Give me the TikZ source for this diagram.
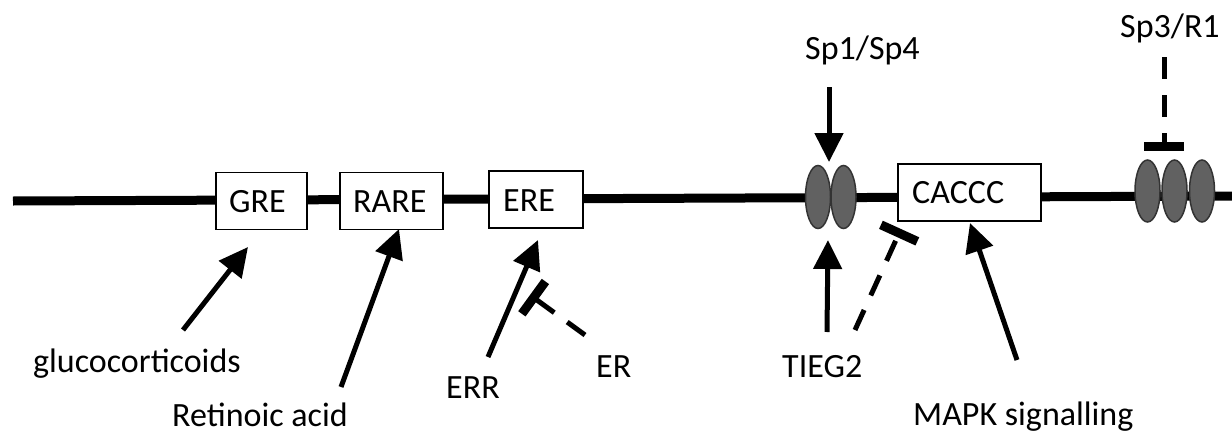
\documentclass[tikz,border=0pt]{standalone}
\usepackage{fontspec}
\setmainfont{Carlito}
\usetikzlibrary{arrows.meta,shapes.geometric}
\begin{document}
\begin{tikzpicture}[x=1pt,y=-1pt,
  every node/.style={font=\fontsize{34}{40}\selectfont},
  dna/.style={line width=9pt},
  site/.style={draw, line width=1.8pt, fill=white, rectangle, minimum height=57pt, inner sep=0pt},
  bead/.style={ellipse, draw=black!80, fill=black!62, line width=1.5pt, minimum width=25pt, minimum height=63pt, inner sep=0pt},
  act/.style={line width=5pt, -{Triangle[length=29pt,width=28pt]}},
  inh/.style={line width=5pt, dash pattern=on 22pt off 16pt, -{Bar[width=40pt,line width=9pt]}},
  lbl/.style={anchor=base west, inner sep=0pt}
]
\useasboundingbox (0,0) rectangle (1232,434);
% DNA line
\coordinate (dnaL) at (13,201);
\coordinate (dnaR) at (1232,196);
\draw[dna] (dnaL) -- (dnaR);
% response elements
\node[site, minimum width=91pt] (gre) at (261.5,201) {};
\node[site, minimum width=103pt] (rare) at (391.5,201) {};
\node[site, minimum width=94pt] (ere) at (536,199.5) {};
\node[site, minimum width=143pt] (caccc) at (969.5,192.5) {};
\node[lbl] (greT) at (229,212) {GRE};
\node[lbl] (rareT) at (353,212) {RARE};
\node[lbl] (ereT) at (503,211) {ERE};
\node[lbl] (cacccT) at (912,203) {CACCC};
% Sp binding sites
\node[bead] (e1) at (818,197) {};
\node[bead] (e2) at (843.5,197) {};
\node[bead, minimum height=62pt] (f1) at (1147.5,191) {};
\node[bead, minimum height=62pt] (f2) at (1174.5,191) {};
\node[bead, minimum height=62pt] (f3) at (1202,191) {};
% labels
\node[lbl] (gluco) at (33,372) {glucocorticoids};
\node[lbl] (retin) at (172,426) {Retinoic acid};
\node[lbl] (err) at (446,398) {ERR};
\node[lbl] (er) at (596,377) {ER};
\node[lbl] (tieg) at (782,377) {TIEG2};
\node[lbl] (mapk) at (913,425) {MAPK signalling};
\node[lbl] (sp14) at (805,59) {Sp1/Sp4};
\node[lbl] (sp3) at (1120,37) {Sp3/R1};
% connector end points
\coordinate (glucoS) at (183,330);
\coordinate (greE) at (248,247);
\coordinate (retinS) at (341,387);
\coordinate (rareE) at (399,229);
\coordinate (errS) at (488,357);
\coordinate (ereE) at (538,240);
\coordinate (erS) at (585,335);
\coordinate (erE) at (530,295);
\coordinate (tiegS) at (827,332);
\coordinate (eE) at (828,240);
\coordinate (tiegI) at (855,330);
\coordinate (cacccI) at (901,229);
\coordinate (mapkS) at (1017,360);
\coordinate (cacccE) at (970,223);
\coordinate (sp14S) at (829,87);
\coordinate (sp14E) at (829,162);
\coordinate (sp3S) at (1164,57);
\coordinate (sp3E) at (1164,151);
% connectors
\draw[act] (glucoS) -- (greE);
\draw[act] (retinS) -- (rareE);
\draw[act] (errS) -- (ereE);
\draw[inh] (erS) -- (erE);
\draw[act] (tiegS) -- (eE);
\draw[inh] (tiegI) -- (cacccI);
\draw[act] (mapkS) -- (cacccE);
\draw[act] (sp14S) -- (sp14E);
\draw[inh] (sp3S) -- (sp3E);
\end{tikzpicture}
\end{document}
